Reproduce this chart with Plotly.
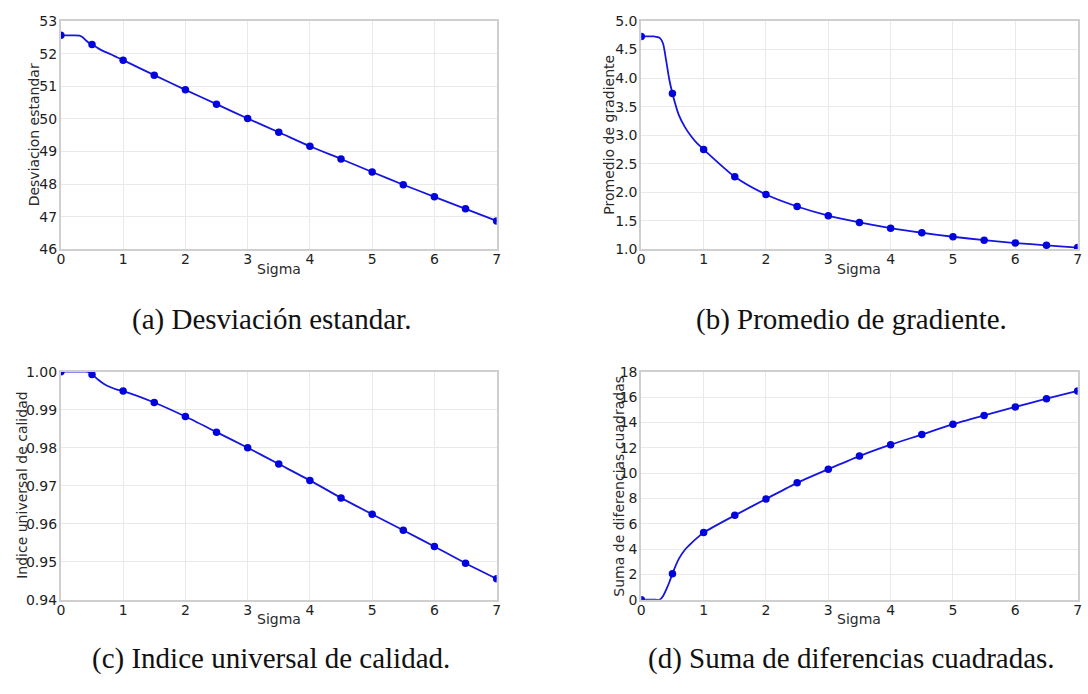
import plotly.graph_objects as go

W, H = 1088, 694

# ---------------- data ----------------
sigma = [0, 0.5, 1, 1.5, 2, 2.5, 3, 3.5, 4, 4.5, 5, 5.5, 6, 6.5, 7]

desviacion = [52.56, 52.28, 51.80, 51.34, 50.89, 50.45, 50.01, 49.59, 49.16,
              48.77, 48.37, 47.98, 47.61, 47.24, 46.87]
gradiente = [4.73, 3.73, 2.75, 2.27, 1.96, 1.75, 1.59, 1.47, 1.37, 1.29,
             1.22, 1.16, 1.11, 1.07, 1.03]
calidad = [1.0000, 0.9993, 0.9949, 0.9919, 0.9882, 0.9841, 0.9800, 0.9757,
           0.9714, 0.9668, 0.9625, 0.9583, 0.9540, 0.9496, 0.9455]
suma = [0.0, 2.06, 5.30, 6.66, 7.95, 9.23, 10.31, 11.34, 12.24, 13.04,
        13.86, 14.55, 15.22, 15.87, 16.48]

# dense curve samples for the start of each curve
sigma_fine = [0, 0.1, 0.2, 0.3, 0.35, 0.4, 0.45, 0.5, 0.6, 0.7, 0.8, 0.9, 1.0]
desviacion_fine = [52.56, 52.56, 52.56, 52.55, 52.50, 52.41, 52.33, 52.28,
                   52.16, 52.06, 51.98, 51.89, 51.80]
gradiente_fine = [4.73, 4.73, 4.73, 4.70, 4.60, 4.30, 3.97, 3.73,
                  3.36, 3.14, 2.98, 2.85, 2.75]
calidad_fine = [1.0000, 1.0000, 1.0000, 1.0000, 1.0000, 1.0000, 0.99985, 0.9993,
                0.9979, 0.9967, 0.9959, 0.9953, 0.9949]
suma_fine = [0.0, 0.0, 0.0, 0.02, 0.30, 0.80, 1.38, 2.06,
             3.20, 3.95, 4.45, 4.90, 5.30]

x_ticks = [0, 1, 2, 3, 4, 5, 6, 7]

panels = [
    dict(name="a", y=desviacion, yf=desviacion_fine, rng=[46, 53], dtick=1, fmt="d",
         ytitle="Desviacion estandar", caption="(a) Desviación estandar."),
    dict(name="b", y=gradiente, yf=gradiente_fine, rng=[1, 5], dtick=0.5, fmt=".1f",
         ytitle="Promedio de gradiente", caption="(b) Promedio de gradiente."),
    dict(name="c", y=calidad, yf=calidad_fine, rng=[0.94, 1.0], dtick=0.01, fmt=".2f",
         ytitle="Indice universal de calidad", caption="(c) Indice universal de calidad."),
    dict(name="d", y=suma, yf=suma_fine, rng=[0, 18], dtick=2, fmt="d",
         ytitle="Suma de diferencias cuadradas", caption="(d) Suma de diferencias cuadradas."),
]

# ---------------- layout geometry (pixels) ----------------
col_x = [(57.3, 496.3), (642.0, 1081.6)]
row_y = [(13.3, 247.0), (372.3, 605.7)]
ytitle_x = [[30.4, 610.0], [18.2, 619.5]]
sigma_y = [266.7, 625.0]
caption_y = [319.0, 666.0]
caption_x = [269.4, 854.0]


def fx(px):
    return px / W


def fy(py):
    return 1 - py / H


LINE = "#1616e0"
MARK = "#0303dc"
TICK_FONT = dict(family="DejaVu Sans", size=14, color="#1e1e1e")

fig = go.Figure()
annotations = []
for i, p in enumerate(panels):
    r, c = divmod(i, 2)
    xa = "x" if i == 0 else f"x{i+1}"
    ya = "y" if i == 0 else f"y{i+1}"
    curve_x = sigma_fine + sigma[3:]
    curve_y = p["yf"] + p["y"][3:]
    fig.add_trace(go.Scatter(x=curve_x, y=curve_y, mode="lines",
                             line=dict(color=LINE, width=1.8, shape="spline", smoothing=0.7),
                             xaxis=xa, yaxis=ya, showlegend=False, hoverinfo="skip"))
    fig.add_trace(go.Scatter(x=sigma, y=p["y"], mode="markers",
                             marker=dict(color=MARK, size=7.5),
                             xaxis=xa, yaxis=ya, showlegend=False))
    xl, xr = col_x[c]
    yt, yb = row_y[r]
    axis_common = dict(showgrid=True, gridcolor="#e9e9e9", gridwidth=1,
                       showline=True, linecolor="#cfcfcf", linewidth=2, mirror=True,
                       zeroline=False, ticks="", tickfont=TICK_FONT,
                       ticklabeloverflow="allow")
    fig.layout[("xaxis" if i == 0 else f"xaxis{i+1}")] = dict(
        domain=[fx(xl), fx(xr)], anchor=ya, range=[0, 7],
        tickvals=x_ticks, ticktext=[str(v) for v in x_ticks],
        ticklabelstandoff=-4, **axis_common)
    fig.layout[("yaxis" if i == 0 else f"yaxis{i+1}")] = dict(
        domain=[fy(yb), fy(yt)], anchor=xa, range=p["rng"], dtick=p["dtick"],
        tick0=p["rng"][0], tickformat=p["fmt"], ticklabelstandoff=-1, **axis_common)

    annotations.append(dict(text=p["ytitle"], textangle=-90, xref="paper", yref="paper",
                            x=fx(ytitle_x[r][c]), y=fy((yt + yb) / 2), xanchor="center",
                            yanchor="middle", showarrow=False,
                            font=dict(family="DejaVu Sans", size=14, color="#2a2a2a")))
    annotations.append(dict(text="Sigma", xref="paper", yref="paper",
                            x=fx((xl + xr) / 2), y=fy(sigma_y[r]), xanchor="center",
                            yanchor="middle", showarrow=False,
                            font=dict(family="DejaVu Sans", size=14, color="#2a2a2a")))
    annotations.append(dict(text=p["caption"], xref="paper", yref="paper",
                            x=fx(caption_x[c]), y=fy(caption_y[r]), xanchor="center",
                            yanchor="middle", showarrow=False,
                            font=dict(family="Liberation Serif", size=29, color="#111111")))

fig.update_layout(width=W, height=H, margin=dict(l=0, r=0, t=0, b=0),
                  paper_bgcolor="white", plot_bgcolor="white",
                  annotations=annotations, showlegend=False)

fig.write_html("out.html",
               config={"displayModeBar": False},
               post_script="document.body.style.margin='0';"
                           "document.body.style.overflow='hidden';")
